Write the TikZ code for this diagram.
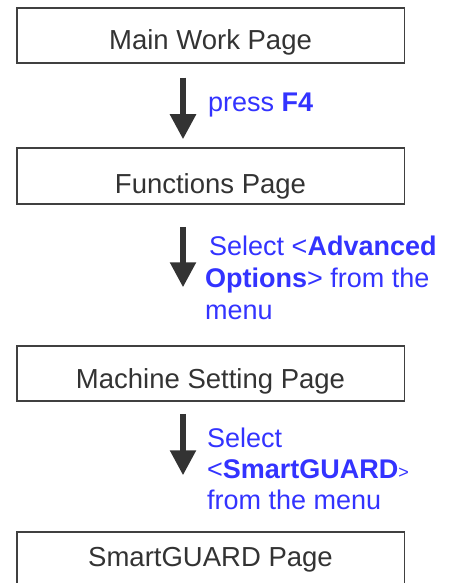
\documentclass[tikz,border=0pt]{standalone}
\usepackage{fontspec}
\setmainfont{Liberation Sans}
\usetikzlibrary{arrows.meta,positioning}
\definecolor{menublue}{RGB}{51,51,255}
\definecolor{boxgray}{RGB}{64,64,64}
\definecolor{txtgray}{RGB}{51,51,51}

\begin{document}
\begin{tikzpicture}[x=1pt,y=-1pt,
  page/.style={draw=boxgray,line width=1.5pt,minimum width=387.5pt,minimum height=55pt,inner sep=0pt,
    text depth=0pt,text=txtgray,font=\fontsize{27.5}{32}\selectfont},
  hint/.style={anchor=base west,inner sep=0pt,align=left,text=menublue,font=\fontsize{27}{32}\selectfont},
  goto/.style={draw=txtgray,line width=5.5pt,-{Triangle[width=25pt,length=25pt]}}]
  \clip (0,0) rectangle (458,583);
  \node[page,text height=29pt] (mainpg) at (210.5,35.5) {Main Work Page};
  \node[page,text height=34pt,minimum height=56pt] (funcpg) at (210.5,176) {Functions Page};
  \node[page,text height=29pt] (machpg) at (210.5,373.5) {Machine Setting Page};
  \node[page,text height=0pt,minimum height=68pt] (guardpg) at (210.5,566) {SmartGUARD Page};
  % multi-line hints sit on the baseline of their last line
  \node[hint] (pressf4) at (208,112) {press \textbf{F4}};
  \node[hint] (advopt) at (205,319) {\hspace{4pt}Select <\textbf{Advanced}\\\textbf{Options}> from the\\menu};
  \node[hint,font=\fontsize{27}{31}\selectfont] (selguard) at (207,509) {Select\\<\textbf{SmartGUARD}{\fontsize{18}{20}\selectfont >}\\from the menu};
  \draw[goto] ([xshift=-27.5pt,yshift=-14pt]mainpg.south) -- ([xshift=-27.5pt,yshift=8pt]funcpg.north);
  \draw[goto] ([xshift=-27.5pt,yshift=-22pt]funcpg.south) -- ([xshift=-27.5pt,yshift=58pt]machpg.north);
  \draw[goto] ([xshift=-27.5pt,yshift=-12pt]machpg.south) -- ([xshift=-27.5pt,yshift=56pt]guardpg.north);
\end{tikzpicture}
\end{document}
